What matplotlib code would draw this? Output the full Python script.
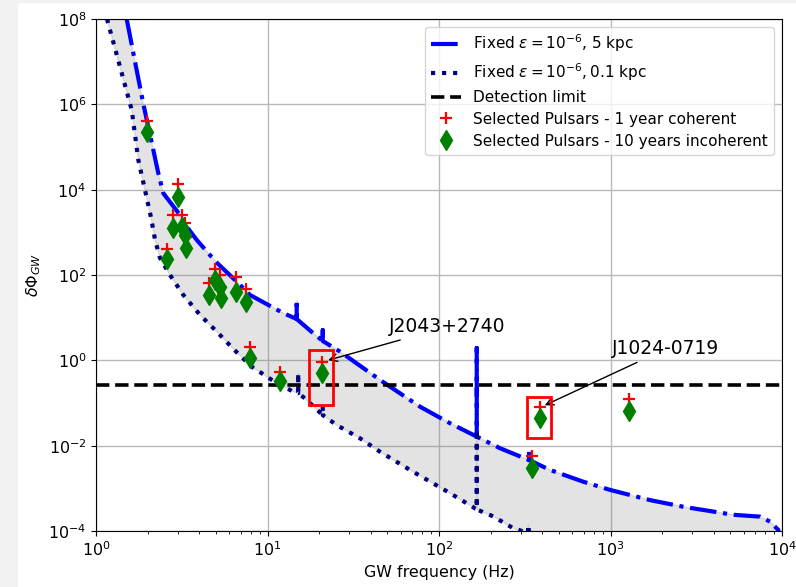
import numpy as np
import matplotlib
matplotlib.use('Agg')
import matplotlib.pyplot as plt
from matplotlib.patches import Rectangle
from matplotlib.ticker import NullLocator

# Phase sensitivity for eps = 1e-6 at 5 kpc (vertical spikes are detector lines)
freq_5kpc = [1.51, 1.69, 1.89, 2.14, 2.31, 2.47, 3.09, 3.38, 3.87, 4.52, 5.06, 6.61,
             7.91, 12.4, 14.8, 14.8, 14.8, 18.5, 21.0, 21.0, 21.0, 26.5, 45.3, 77.5,
             116, 166, 166, 166, 227, 335, 335, 335, 444, 694, 993, 1700, 2657, 5200,
             7450, 8510, 9510, 9700]
phi_5kpc = [1e8, 9.8e6, 1.0e6, 1.0e5, 2.4e4, 8.2e3, 2550, 1355, 662, 323, 195, 70,
            34, 12.7, 9.3, 26, 9.3, 4.3, 2.84, 5.1, 2.84, 1.6, 0.347, 0.082,
            0.0335, 0.0163, 1.95, 0.0163, 0.0087, 0.0046, 0.0072, 0.0046, 0.0027,
            0.00143, 9.2e-4, 5.3e-4, 3.7e-4, 2.4e-4, 2.17e-4, 1.66e-4, 1.06e-4, 5e-5]

# Same for 0.1 kpc
freq_01kpc = [1.159, 1.38, 1.615, 1.765, 1.93, 2.09, 2.21, 2.36, 2.70, 3.23, 4.04,
              5.06, 6.32, 8.09, 10.6, 14.1, 15.1, 15.1, 15.1, 16.5, 21.0, 21.0, 21.0,
              25.3, 34.6, 45.3, 67.7, 116, 162, 166, 166, 166, 207, 271, 332, 332,
              332, 420]
phi_01kpc = [1e8, 7.6e6, 7.4e5, 4.97e4, 9.8e3, 2290, 662, 251, 100, 34, 11.6,
             4.7, 1.85, 0.71, 0.347, 0.184, 0.17, 0.5, 0.17, 0.129, 0.052, 0.082, 0.052,
             0.0305, 0.0149, 0.0072, 0.0027, 7.7e-4, 3.4e-4, 3.3e-4, 0.023, 3.2e-4,
             2.2e-4, 1.16e-4, 9e-5, 1.4e-4, 9e-5, 5e-5]

detection_limit = 0.26

# Selected pulsars: GW frequency, 1 yr coherent and 10 yr incoherent values
psr_freq = [1.975, 3.02, 2.58, 2.80, 3.16, 3.30, 3.35, 4.94, 5.25, 4.56, 5.36,
            6.51, 7.54, 7.91, 11.9, 20.8, 347, 387, 1282]
psr_coherent = [4.1e5, 1.36e4, 401, 2550, 2550, 1630, 778, 136, 97.5, 64, 52,
                88.5, 46, 2.09, 0.54, 0.93, 0.0057, 0.081, 0.124]
psr_incoherent = [2.3e5, 6.9e3, 233, 1245, 1360, 867, 423, 76, 53, 34, 28.5,
                  40.6, 23.7, 1.12, 0.32, 0.51, 0.003, 0.045, 0.066]

# Highlighted pulsars: name, (f, phi) of arrow tip, label position, box corners
highlight_names = ['J2043+2740', 'J1024-0719']
highlight_tip = [(21.8, 0.97), (400, 0.083)]
highlight_text = [(111, 6.05), (2107, 1.85)]
highlight_box = [((17.5, 0.09), (24.1, 1.75)), ((326, 0.015), (450, 0.138))]

plt.rcParams['font.size'] = 11.4

fig = plt.figure(figsize=(7.96, 5.87), dpi=100)
ax = fig.add_axes([96 / 796, 56 / 587, 686 / 796, 512 / 587])

# grey margins along left and top edges
fig.patches.append(Rectangle((0, 0), 17 / 796, 1, transform=fig.transFigure,
                             color='#f2f2f2', zorder=-1))
fig.patches.append(Rectangle((0, 1 - 2 / 587), 1, 2 / 587, transform=fig.transFigure,
                             color='#f2f2f2', zorder=-1))

# shaded band between the two distances
ax.fill(np.r_[freq_5kpc, freq_01kpc[::-1]], np.r_[phi_5kpc, phi_01kpc[::-1]],
        color='gray', alpha=0.22, lw=1)

ax.plot(freq_5kpc, phi_5kpc, '-.', color='blue', lw=3,
        label=r'Fixed $\varepsilon = 10^{-6}$, 5 kpc')
ax.plot(freq_01kpc, phi_01kpc, ':', color='navy', lw=3,
        label=r'Fixed $\varepsilon = 10^{-6}, 0.1$ kpc')
ax.axhline(detection_limit, color='black', ls='--', lw=2.6, label='Detection limit')

ax.plot(psr_freq, psr_coherent, 'r+', ms=9, mew=1.6, ls='none',
        label='Selected Pulsars - 1 year coherent')
ax.plot(psr_freq, psr_incoherent, 'd', color='green', ms=10.5, ls='none',
        label='Selected Pulsars - 10 years incoherent')

for name, tip, txt, box in zip(highlight_names, highlight_tip, highlight_text, highlight_box):
    (x0, y0), (x1, y1) = box
    ax.add_patch(Rectangle((x0, y0), x1 - x0, y1 - y0, fill=False,
                           edgecolor='red', lw=2, zorder=5))
    ax.annotate(name, xy=tip, xytext=txt, ha='center', va='center', fontsize=13.5,
                arrowprops=dict(arrowstyle='->', color='black', lw=1))

ax.set_xscale('log')
ax.set_yscale('log')
ax.set_xlim(1, 1e4)
ax.set_ylim(1e-4, 1e8)
ax.set_yticks([1e-4, 1e-2, 1e0, 1e2, 1e4, 1e6, 1e8])
ax.yaxis.set_minor_locator(NullLocator())
ax.grid(True, which='major', color='#b8b8b8', lw=1)
ax.set_axisbelow(True)

ax.set_xlabel('GW frequency (Hz)')
ax.set_ylabel(r'$\delta\Phi_{GW}$')
ax.legend(loc='upper right', fontsize=11, labelspacing=0.45)

fig.savefig('out.png', dpi=100)
